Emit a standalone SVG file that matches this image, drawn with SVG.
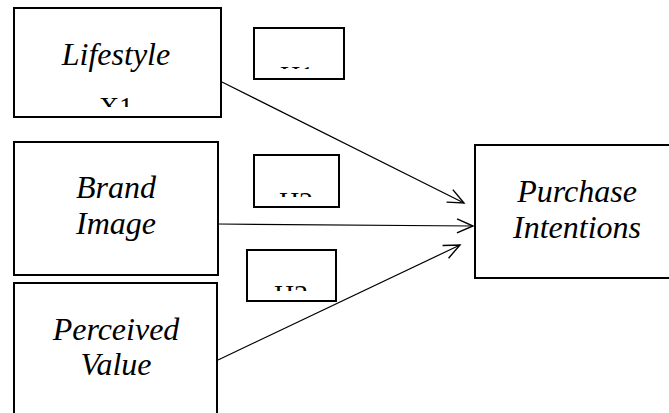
<svg xmlns="http://www.w3.org/2000/svg" width="669" height="413" viewBox="0 0 669 413">
  <style>
    .box { fill: #fff; stroke: #000; stroke-width: 2; }
    .lbl { font-style: italic; font-size: 32px; fill: #000; text-anchor: middle; }
    .tag { font-size: 28px; fill: #000; text-anchor: middle; }
    .link { fill: none; stroke: #000; stroke-width: 1.2; marker-end: url(#open); }
  </style>
  <defs>
    <marker id="open" viewBox="0 0 20 20" refX="18" refY="10" markerWidth="20" markerHeight="20" markerUnits="userSpaceOnUse" orient="auto">
      <path d="M2,3 L18,10 L2,17" fill="none" stroke="#000" stroke-width="1.4"/>
    </marker>
    <clipPath id="clipX1"><rect x="15" y="9" width="205" height="98"/></clipPath>
    <clipPath id="clipH1"><rect x="255" y="29" width="88" height="40"/></clipPath>
    <clipPath id="clipH2"><rect x="255" y="156" width="83" height="41"/></clipPath>
    <clipPath id="clipH3"><rect x="248" y="251" width="87" height="40"/></clipPath>
  </defs>

  <g id="connectors">
    <line class="link" x1="222" y1="82" x2="464" y2="203"/>
    <line class="link" x1="218" y1="224" x2="473" y2="226"/>
    <line class="link" x1="218" y1="360" x2="460" y2="245"/>
  </g>

  <g id="lifestyle">
    <rect class="box" x="14" y="8" width="207" height="109"/>
    <text class="lbl" x="116" y="65" font-family="Times New Roman">Lifestyle</text>
    <text class="tag" x="116" y="116" font-family="Times New Roman" clip-path="url(#clipX1)">X1</text>
  </g>

  <g id="h1">
    <rect class="box" x="254" y="28" width="90" height="51"/>
    <text class="tag" x="297" y="85" font-family="Times New Roman" clip-path="url(#clipH1)">H1</text>
  </g>

  <g id="brand-image">
    <rect class="box" x="14" y="142" width="204" height="133"/>
    <text class="lbl" x="116" y="198" font-family="Times New Roman">Brand</text>
    <text class="lbl" x="116" y="234" font-family="Times New Roman">Image</text>
  </g>

  <g id="h2">
    <rect class="box" x="254" y="155" width="85" height="52"/>
    <text class="tag" x="296" y="211" font-family="Times New Roman" clip-path="url(#clipH2)">H2</text>
  </g>

  <g id="h3">
    <rect class="box" x="247" y="250" width="89" height="51"/>
    <text class="tag" x="291" y="304" font-family="Times New Roman" clip-path="url(#clipH3)">H3</text>
  </g>

  <g id="perceived-value">
    <rect class="box" x="14" y="283" width="203" height="140"/>
    <text class="lbl" x="116" y="340" font-family="Times New Roman">Perceived</text>
    <text class="lbl" x="116" y="375" font-family="Times New Roman">Value</text>
  </g>

  <g id="purchase-intentions">
    <rect class="box" x="475" y="145" width="210" height="133"/>
    <text class="lbl" x="577" y="202" font-family="Times New Roman">Purchase</text>
    <text class="lbl" x="577" y="238" font-family="Times New Roman">Intentions</text>
  </g>
</svg>
